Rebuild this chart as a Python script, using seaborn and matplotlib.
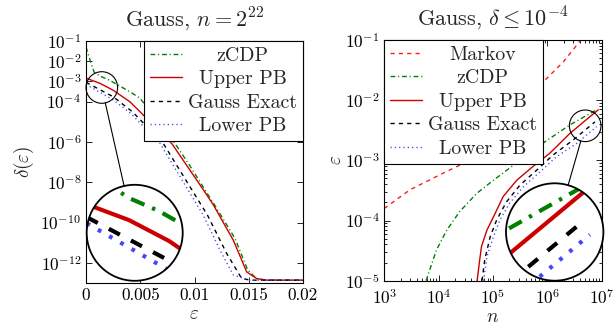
import matplotlib.pyplot as plt
import numpy as np
import seaborn as sns
from matplotlib.lines import Line2D
from matplotlib.patches import Circle, Ellipse
from matplotlib.ticker import FixedLocator, FuncFormatter, LogLocator, NullLocator, NullFormatter

# ---- left panel: delta(eps), Gauss, n = 2^22 (delta given as log10) ----
zcdp_eps = [0.0, 0.00037, 0.00075, 0.00129, 0.00219, 0.00268, 0.00406, 0.00498, 0.0082,
            0.00959, 0.01097, 0.0119, 0.01373, 0.0149, 0.0157, 0.0166, 0.02]
zcdp_logd = [-1.3, -1.94, -2.55, -2.74, -2.95, -3.10, -3.52, -3.84, -6.08,
             -7.2, -8.39, -9.17, -10.79, -12.35, -12.78, -12.86, -12.86]

upper_eps = [0.0, 0.00129, 0.0025, 0.00406, 0.005, 0.0079, 0.01083, 0.01173, 0.01358,
             0.01481, 0.01573, 0.01665, 0.02]
upper_logd = [-2.84, -3.10, -3.44, -4.02, -4.52, -6.08, -8.39, -9.12, -10.88,
              -12.45, -12.78, -12.86, -12.86]

exact_eps = [0.0, 0.0025, 0.0043, 0.00712, 0.0112, 0.01297, 0.01435, 0.0152, 0.02]
exact_logd = [-3.05, -3.76, -4.52, -6.08, -9.64, -11.54, -12.78, -12.86, -12.86]

lower_eps = [0.0, 0.0025, 0.0041, 0.00682, 0.01081, 0.01235, 0.01358, 0.0151, 0.02]
lower_logd = [-3.15, -3.92, -4.58, -6.08, -9.64, -11.37, -12.61, -12.86, -12.86]

left_yticks = [-1, -2, -3, -4, -6, -8, -10, -12]
left_xticks = [0, 0.005, 0.01, 0.015, 0.02]

# ---- right panel: eps vs n, Gauss, delta <= 1e-4 (both as log10) ----
markov_logn = [3.0, 3.47, 4.09, 4.39, 5.99, 6.30, 6.62]
markov_loge = [-3.80, -3.49, -3.21, -3.08, -1.64, -1.36, -1.0]

zcdp_logn = [3.77, 3.96, 4.15, 4.39, 4.70, 5.01, 5.35, 5.96, 6.42, 6.91]
zcdp_loge = [-5.0, -4.49, -4.16, -3.85, -3.55, -3.33, -3.10, -2.69, -2.41, -2.16]

upper_logn = [4.71, 4.75, 4.79, 4.89, 5.01, 5.19, 5.44, 5.74, 6.05, 6.42, 6.94]
upper_loge = [-5.0, -4.70, -4.43, -4.16, -3.94, -3.60, -3.33, -3.10, -2.88, -2.55, -2.16]

exact_logn = [4.80, 4.85, 4.95, 5.07, 5.25, 5.50, 5.81, 6.11, 6.48, 6.88]
exact_loge = [-5.0, -4.65, -4.27, -3.99, -3.69, -3.41, -3.16, -2.91, -2.66, -2.36]

lower_logn = [4.83, 4.89, 5.01, 5.13, 5.31, 5.56, 5.87, 6.17, 6.54, 6.91]
lower_loge = [-5.0, -4.60, -4.27, -3.99, -3.71, -3.44, -3.19, -2.94, -2.72, -2.44]

right_ticks = [3, 4, 5, 6, 7]

LW = 1.0
FS = 14.3
STYLES = {
    "Markov": ("#ff1a1a", (0, (3, 3))),
    "zCDP": ("#008000", (0, (3.5, 2, 0.8, 2))),
    "Upper PB": ("#cc0000", "-"),
    "Gauss Exact": ("black", (0, (3, 3))),
    "Lower PB": ("#4646ff", (0, (0.9, 2.2))),
}

left_series = [
    ("zCDP", zcdp_eps, 10 ** np.array(zcdp_logd)),
    ("Upper PB", upper_eps, 10 ** np.array(upper_logd)),
    ("Gauss Exact", exact_eps, 10 ** np.array(exact_logd)),
    ("Lower PB", lower_eps, 10 ** np.array(lower_logd)),
]
right_series = [
    ("Markov", 10 ** np.array(markov_logn), 10 ** np.array(markov_loge)),
    ("zCDP", 10 ** np.array(zcdp_logn), 10 ** np.array(zcdp_loge)),
    ("Upper PB", 10 ** np.array(upper_logn), 10 ** np.array(upper_loge)),
    ("Gauss Exact", 10 ** np.array(exact_logn), 10 ** np.array(exact_loge)),
    ("Lower PB", 10 ** np.array(lower_logn), 10 ** np.array(lower_loge)),
]


def draw_lines(ax, series, scale=1.0, labels=True):
    for name, xs, ys in series:
        color, ls = STYLES[name]
        sns.lineplot(x=xs, y=ys, ax=ax, color=color, linestyle=ls, linewidth=LW * scale,
                     label=name if labels else None, estimator=None, sort=False, legend=False)


def style_axes(ax):
    for sp in ax.spines.values():
        sp.set_color("black")
        sp.set_linewidth(0.8)
    ax.tick_params(which="both", direction="in", top=True, right=True, colors="black",
                   labelsize=12.3, width=0.6)
    ax.tick_params(which="major", length=4)
    ax.tick_params(which="minor", length=2.5)


def add_legend(ax, loc):
    leg = ax.legend(loc=loc, borderaxespad=0, fancybox=False, framealpha=1, edgecolor="black",
                    fontsize=FS, handlelength=1.6, handletextpad=0.3, borderpad=0.3,
                    labelspacing=0.28)
    leg.get_frame().set_linewidth(0.8)
    return leg


def center_legend_text(fig, legends):
    fig.canvas.draw()
    r = fig.canvas.get_renderer()
    for leg in legends:
        texts = leg.get_texts()
        ws = [t.get_window_extent(r).width for t in texts]
        for t, w in zip(texts, ws):
            t.set_x((max(ws) - w) / 2)


def magnify(fig, ax, series, small, big, r_small, r_big):
    # lens centre and blow-up centre in axes fraction, radii in pixels
    cs = ax.transAxes.transform(small)
    cb = ax.transAxes.transform(big)
    (x0, y0), (x1, y1) = ax.transData.inverted().transform([cs - r_small, cs + r_small])
    fw, fh = fig.bbox.width, fig.bbox.height
    ins = fig.add_axes([(cb[0] - r_big) / fw, (cb[1] - r_big) / fh, 2 * r_big / fw, 2 * r_big / fh])
    ins.set_xscale(ax.get_xscale())
    ins.set_yscale(ax.get_yscale())
    disc = Circle((0.5, 0.5), 0.5, transform=ins.transAxes, fc="white", ec="none", zorder=0)
    ins.add_patch(disc)
    draw_lines(ins, series, scale=3, labels=False)
    for ln in ins.lines:
        ln.set_clip_path(disc)
    ins.set_xlim(x0, x1)
    ins.set_ylim(y0, y1)
    ins.axis("off")
    ins.add_patch(Circle((0.5, 0.5), 0.5, transform=ins.transAxes, fill=False, ec="black",
                         lw=1.3, zorder=5, clip_on=False))
    ax.add_patch(Ellipse(small, 2 * r_small / ax.bbox.width, 2 * r_small / ax.bbox.height,
                         transform=ax.transAxes, fill=False, ec="black", lw=0.8, zorder=5,
                         clip_on=False))
    d = (cb - cs) / np.hypot(*(cb - cs))
    p0 = cs + d * r_small
    p1 = cb - d * r_big
    fig.add_artist(Line2D([p0[0] / fw, p1[0] / fw], [p0[1] / fh, p1[1] / fh],
                          color="black", lw=0.8))


sns.set_theme(style="ticks")
plt.rcParams["font.family"] = "serif"
plt.rcParams["font.serif"] = ["cmr10"]
plt.rcParams["mathtext.fontset"] = "cm"
plt.rcParams["axes.formatter.use_mathtext"] = True

fig = plt.figure(figsize=(6.16, 3.27), dpi=100)
ax1 = fig.add_axes([86 / 616, 1 - 283 / 327, 217 / 616, 242 / 327])
ax2 = fig.add_axes([384.3 / 616, 1 - 280.7 / 327, 217.2 / 616, 240.7 / 327])

pow_fmt = FuncFormatter(lambda v, pos: r"$10^{%d}$" % round(np.log10(v)))

# left
draw_lines(ax1, left_series)
ax1.set_yscale("log")
ax1.set_xlim(0, 0.02)
ax1.set_ylim(1e-13, 1e-1)
ax1.yaxis.set_major_locator(FixedLocator([10.0 ** k for k in left_yticks]))
ax1.yaxis.set_minor_locator(NullLocator())
ax1.yaxis.set_major_formatter(pow_fmt)
ax1.xaxis.set_major_locator(FixedLocator(left_xticks))
ax1.xaxis.set_major_formatter(FuncFormatter(lambda v, pos: "%g" % v))
style_axes(ax1)
ax1.set_title(r"Gauss, $n = 2^{22}$", fontsize=16, pad=11)
ax1.set_xlabel(r"$\varepsilon$", fontsize=13.8, labelpad=1.5)
ax1.set_ylabel(r"$\delta(\varepsilon)$", fontsize=13.8, labelpad=3.5)
leg1 = add_legend(ax1, "upper right")

# right
draw_lines(ax2, right_series)
ax2.set_xscale("log")
ax2.set_yscale("log")
ax2.set_xlim(1e3, 1e7)
ax2.set_ylim(1e-5, 1e-1)
ax2.xaxis.set_major_locator(FixedLocator([10.0 ** k for k in right_ticks]))
for axis in (ax2.xaxis, ax2.yaxis):
    axis.set_minor_locator(LogLocator(base=10, subs=np.arange(2, 10), numticks=20))
    axis.set_major_formatter(pow_fmt)
    axis.set_minor_formatter(NullFormatter())
ax2.yaxis.set_major_locator(LogLocator(base=10, numticks=20))
style_axes(ax2)
ax2.tick_params(axis="x", which="major", pad=5)
ax2.set_title(r"Gauss, $\delta \leq 10^{-4}$", fontsize=16, pad=11)
ax2.set_xlabel(r"$n$", fontsize=13.8, labelpad=0.5)
ax2.set_ylabel(r"$\varepsilon$", fontsize=13.8, labelpad=0)
leg2 = add_legend(ax2, "upper left")

magnify(fig, ax1, left_series, (15.8 / 217, 1 - 46.5 / 242), (48.7 / 217, 50.2 / 242), 15.8, 48)
magnify(fig, ax2, right_series, (200.9 / 217.2, 154.9 / 240.7), (170.4 / 217.2, 48.7 / 240.7), 15.8, 48.7)

center_legend_text(fig, [leg1, leg2])
fig.savefig("out.png", dpi=100)
